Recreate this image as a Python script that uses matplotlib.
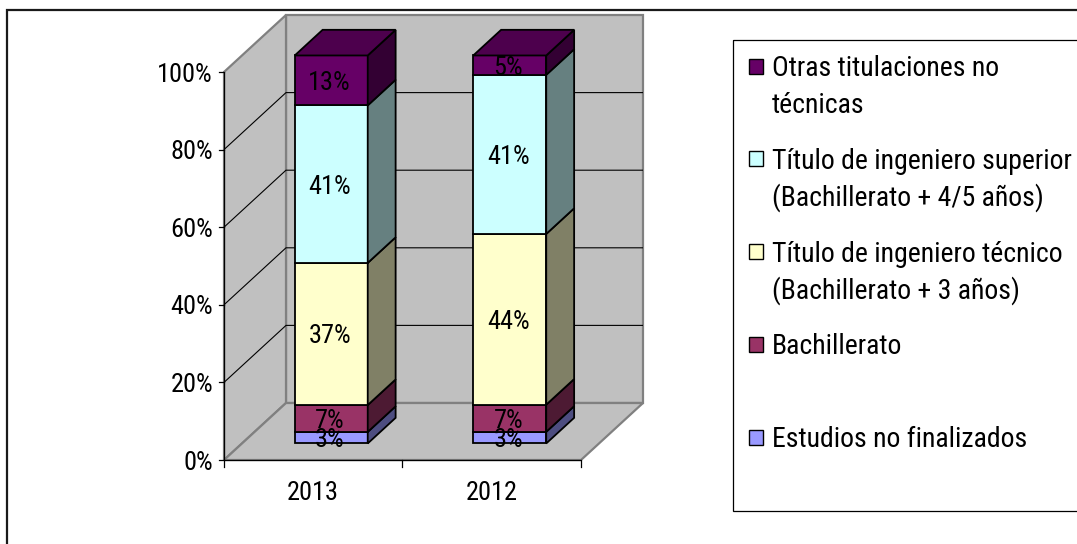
import matplotlib
matplotlib.use("Agg")
import matplotlib.pyplot as plt
from matplotlib.patches import Polygon, Rectangle
import numpy as np

# ---- data -------------------------------------------------------------
categories = ["2013", "2012"]
series_names = [
    "Estudios no finalizados",
    "Bachillerato",
    "Título de ingeniero técnico\n(Bachillerato + 3 años)",
    "Título de ingeniero superior\n(Bachillerato + 4/5 años)",
    "Otras titulaciones no\ntécnicas",
]
estudios_no_finalizados = [3, 3]
bachillerato = [7, 7]
ingeniero_tecnico = [37, 44]
ingeniero_superior = [41, 41]
otras_titulaciones = [13, 5]
series_colors = ["#9999FF", "#993366", "#FFFFCC", "#CCFFFF", "#660066"]
y_ticks = [0, 20, 40, 60, 80, 100]
y_tick_labels = ["0%", "20%", "40%", "60%", "80%", "100%"]

series = [estudios_no_finalizados, bachillerato, ingeniero_tecnico,
          ingeniero_superior, otras_titulaciones]

# ---- figure -----------------------------------------------------------
W, H = 1077, 544
plt.rcParams["font.family"] = ["Roboto Condensed", "Archivo Narrow", "Liberation Sans",
                               "DejaVu Sans"]
FS = 19
FS_LEG = 20

fig = plt.figure(figsize=(W / 100, H / 100), dpi=100)
fig.patch.set_facecolor("white")

# overlay in pixel units for the frame and the legend
frame = fig.add_axes([0, 0, 1, 1], zorder=0)
frame.set_xlim(0, W)
frame.set_ylim(H, 0)
frame.axis("off")

# front plane of the 3-D plot (category units × percent)
x0, x1, yb, yt = 224, 581, 460, 72
ax = fig.add_axes([x0 / W, (H - yb) / H, (x1 - x0) / W, (yb - yt) / H], zorder=1)
ncat = len(categories)
ax.set_xlim(0, ncat)
ax.set_ylim(0, 100)
ax.axis("off")

PX = ncat / (x1 - x0)          # data x per pixel
PY = 100 / (yb - yt)           # data y per pixel
DX, DY = 62 * PX, 57 * PY      # full depth offset of floor / walls


def proj(x, y, z):
    return (x + z * DX, y + z * DY)


def poly(pts, fc, ec, lw, z=2):
    ax.add_patch(Polygon([proj(*p) for p in pts], closed=True, facecolor=fc,
                         edgecolor=ec, linewidth=lw, clip_on=False, zorder=z,
                         joinstyle="miter"))


def line(pts, color, lw, z=3):
    xy = np.array([proj(*p) for p in pts])
    ax.plot(xy[:, 0], xy[:, 1], color=color, lw=lw, clip_on=False, zorder=z,
            solid_capstyle="butt")


wall = "#C0C0C0"
wall_edge = "#808080"
# back wall, side wall, floor
poly([(0, 0, 1), (ncat, 0, 1), (ncat, 100, 1), (0, 100, 1)], wall, wall_edge, 1.6, 1)
poly([(0, 0, 0), (0, 0, 1), (0, 100, 1), (0, 100, 0)], wall, wall_edge, 1.6, 1)
poly([(0, 0, 0), (ncat, 0, 0), (ncat, 0, 1), (0, 0, 1)], wall, wall_edge, 1.6, 1)

# gridlines across side wall and back wall
for v in y_ticks[1:-1]:
    line([(0, v, 0), (0, v, 1), (ncat, v, 1)], "black", 0.8, 1.5)

# axes lines and ticks
line([(0, 0, 0), (0, 100, 0)], "black", 0.9, 4)
line([(0, 0, 0), (ncat, 0, 0)], "black", 0.9, 4)
for v, lab in zip(y_ticks, y_tick_labels):
    ax.plot([-5 * PX, 0], [v, v], color="black", lw=0.9, clip_on=False, zorder=4)
    ax.text(-11 * PX, v - 9.5 * PY, lab, ha="right", va="baseline", fontsize=FS,
            clip_on=False)
for i in range(ncat + 1):
    ax.plot([i, i], [0, -7 * PY], color="black", lw=0.9, clip_on=False, zorder=4)
for i, cat in enumerate(categories):
    ax.text(i + 0.5, -30 * PY - 9.5 * PY, cat, ha="center", va="baseline",
            fontsize=FS, clip_on=False)

# ---- stacked 3-D bars (100 % stacked) ----------------------------------
bar_w = 73 * PX
zf, zb = 0.29, 0.74
edge_lw = 1.3


def shade(hexcol, f):
    r, g, b = matplotlib.colors.to_rgb(hexcol)
    return (r * f, g * f, b * f)


for i in range(ncat):
    vals = [s[i] for s in series]
    total = sum(vals)
    left = i + 0.5 - bar_w / 2
    right = i + 0.5 + bar_w / 2
    base = 0.0
    for k, (v, col) in enumerate(zip(vals, series_colors)):
        h = v / total * 100
        top = base + h
        zo = 5 + k * 0.1
        # front face
        poly([(left, base, zf), (right, base, zf), (right, top, zf), (left, top, zf)],
             col, "black", edge_lw, zo)
        # side face
        poly([(right, base, zf), (right, base, zb), (right, top, zb), (right, top, zf)],
             shade(col, 0.5), "black", edge_lw, zo)
        if k == len(vals) - 1:
            poly([(left, top, zf), (right, top, zf), (right, top, zb), (left, top, zb)],
                 shade(col, 0.75), "black", edge_lw, zo)
        base = top
    # value labels, on top of every face
    base = 0.0
    for k, v in enumerate(vals):
        h = v / total * 100
        cx, cy = proj(i + 0.5, base + h / 2, zf)
        ax.text(cx - 1.5 * PX, cy - 9.5 * PY, f"{v}%", ha="center", va="baseline",
                fontsize=FS, zorder=8, clip_on=False)
        base += h

# ---- chart frame -------------------------------------------------------
frame.plot([7, 7, W + 5], [H + 5, 10, 10], color="#1a1a1a", lw=1.6,
           solid_joinstyle="miter")

# ---- legend ------------------------------------------------------------
frame.add_patch(Rectangle((733, 40), W + 10 - 733, 511 - 40, facecolor="none",
                          edgecolor="black", lw=0.9))
slot0, slot = 66, 92.75
for j, k in enumerate(range(len(series) - 1, -1, -1)):
    yc = slot0 + j * slot
    frame.add_patch(Rectangle((749, yc - 7.5), 14, 15, facecolor=series_colors[k],
                              edgecolor="black", lw=1.0))
    for n, part in enumerate(series_names[k].split("\n")):
        frame.text(772, yc + n * 37 + 10, part, ha="left", va="baseline",
                   fontsize=FS_LEG)

fig.savefig("out.png", dpi=100)
